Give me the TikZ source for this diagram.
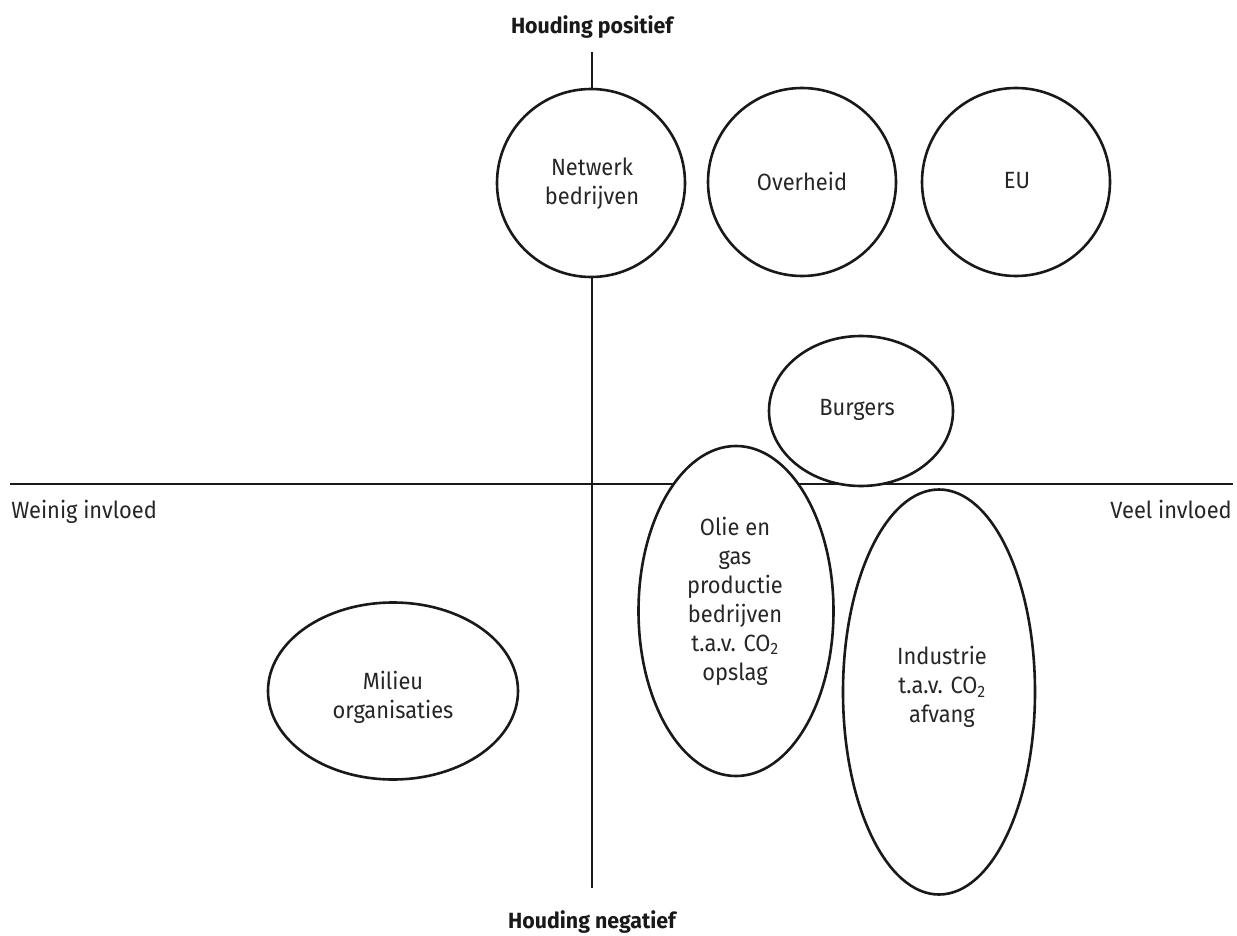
\documentclass[tikz,border=0pt]{standalone}
\usepackage{fontspec}
\setmainfont{Fira Sans}[FakeStretch=0.93]
\newfontfamily\headfont{Fira Sans}[FakeStretch=0.97]
\usetikzlibrary{shapes.geometric}
\begin{document}
\begin{tikzpicture}[x=1pt,y=-1pt,
  line width=2.6pt,
  axis/.style={draw=black!90, line width=2.6pt},
  shapebox/.style={draw=black!90, fill=white, inner sep=0pt, line width=2.6pt},
  circ/.style={shapebox, circle, minimum size=188pt},
  ell/.style 2 args={shapebox, ellipse, minimum width=#1, minimum height=#2},
  txt/.style={font=\fontsize{23.5}{29}\selectfont, align=center, inner sep=0pt, text=black!85},
  head/.style={font=\headfont\fontsize{22}{26}\selectfont\bfseries, inner sep=0pt, anchor=base, text=black!90}]
\useasboundingbox[fill=white] (0,0) rectangle (1237,936);
% axes
\coordinate (vtop) at (592,52);
\coordinate (vbot) at (592,888);
\coordinate (hl) at (10,484);
\coordinate (hr) at (1233,484);
\draw[axis] (vtop) -- (vbot);
\draw[axis] (hl) -- (hr);
% shapes
\node[circ] (netwerk) at (591,183) {};
\node[circ] (overheid) at (802,182) {};
\node[circ] (eu) at (1016,182) {};
\node[ell={184pt}{150pt}] (burgers) at (861,411) {};
\node[ell={195pt}{330pt}] (olie) at (736,611) {};
\node[ell={192pt}{405pt}] (industrie) at (939,692) {};
\node[ell={250pt}{177pt}] (milieu) at (393,691) {};
% texts
\node[txt] (netwerkT) at (592,184) {Netwerk\\bedrijven};
\node[txt] (overheidT) at (802,181) {Overheid};
\node[txt] (euT) at (1017,181) {EU};
\node[txt] (burgersT) at (857,410) {Burgers};
\node[txt] (olieT) at (735,601) {Olie en\\gas\\productie\\bedrijven\\t.a.v. CO\textsubscript{2}\\opslag};
\node[txt] (industrieT) at (942,687) {Industrie\\t.a.v. CO\textsubscript{2}\\afvang};
\node[txt] (milieuT) at (393,697) {Milieu\\organisaties};
% axis labels
\node[head] (pos) at (592,34) {Houding positief};
\node[head] (neg) at (592,928) {Houding negatief};
\node[txt, anchor=base west] (weinig) at (10,518.5) {Weinig invloed};
\node[txt, anchor=base east] (veel) at (1233,518.5) {Veel invloed};
\end{tikzpicture}
\end{document}
